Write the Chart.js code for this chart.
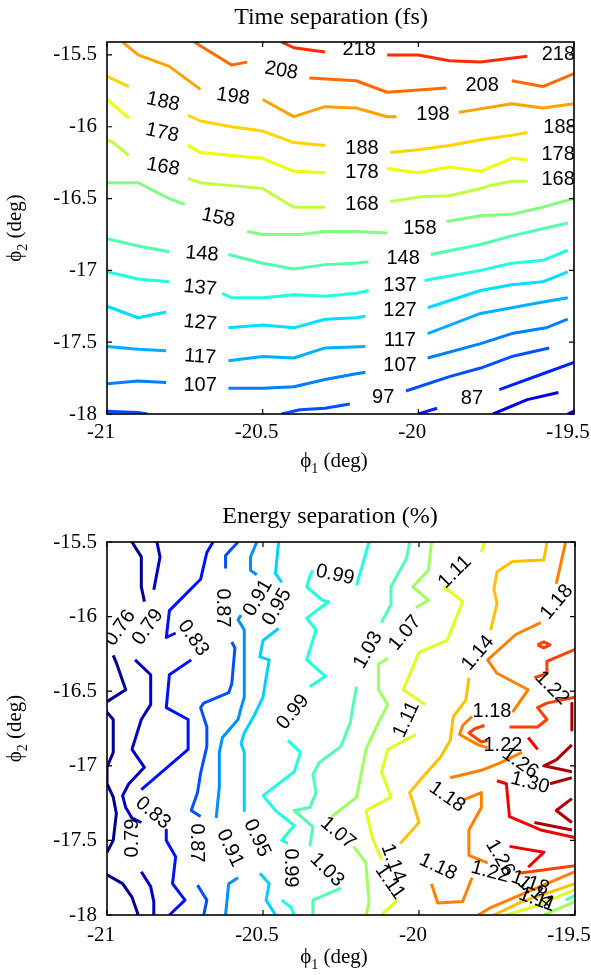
<!DOCTYPE html>
<html><head><meta charset="utf-8">
<script src="https://cdn.jsdelivr.net/npm/chart.js@4"></script>
<style>
html,body{margin:0;padding:0;background:#fff;}
#wrap{position:relative;width:591px;height:975px;}
.cv{position:absolute;left:0;}
</style></head><body>
<div id="wrap">
<canvas id="c1" class="cv" width="591" height="487" style="top:0"></canvas>
<canvas id="c2" class="cv" width="591" height="488" style="top:487px"></canvas>
</div>
<script>
// ---------------- DATA: axes ----------------
const xTicks = [-21, -20.5, -20, -19.5];
const yTicks = [-18, -17.5, -17, -16.5, -16, -15.5];

// ---------------- DATA: time separation (fs) contours ----------------
const timeLevels = [218, 208, 198, 188, 178, 168, 158, 148, 137, 127, 117, 107, 97, 87, 77];
const t218 = [
 [[-20.44,-15.41],[-20.40,-15.45],[-20.30,-15.48]],
 [[-20.10,-15.50],[-20.00,-15.50],[-19.90,-15.54],[-19.80,-15.55],[-19.65,-15.51]]
];
const t208 = [
 [[-20.72,-15.41],[-20.60,-15.57],[-20.55,-15.55]],
 [[-20.35,-15.66],[-20.20,-15.68],[-20.10,-15.76],[-19.91,-15.73]],
 [[-19.70,-15.68],[-19.60,-15.72],[-19.50,-15.63]]
];
const t198 = [
 [[-20.95,-15.41],[-20.90,-15.50],[-20.80,-15.58],[-20.70,-15.74]],
 [[-20.50,-15.81],[-20.40,-15.93],[-20.30,-15.86],[-20.20,-15.87],[-20.10,-15.93],[-20.07,-15.93]],
 [[-19.87,-15.90],[-19.70,-15.84],[-19.60,-15.87],[-19.50,-15.84]]
];
const t188 = [
 [[-21.00,-15.65],[-20.93,-15.72]],
 [[-20.74,-15.92],[-20.70,-15.96],[-20.60,-16.00],[-20.50,-16.03],[-20.40,-16.11],[-20.30,-16.13]],
 [[-20.09,-16.18],[-20.00,-16.16],[-19.90,-16.13],[-19.80,-16.09],[-19.70,-16.06],[-19.65,-16.04]]
];
const t178 = [
 [[-21.00,-15.81],[-20.93,-15.94]],
 [[-20.74,-16.13],[-20.70,-16.18],[-20.60,-16.20],[-20.50,-16.22],[-20.40,-16.31],[-20.30,-16.32]],
 [[-20.10,-16.29],[-20.00,-16.32],[-19.90,-16.28],[-19.80,-16.31],[-19.70,-16.22],[-19.65,-16.23]]
];
const t168 = [
 [[-21.00,-16.09],[-20.98,-16.11],[-20.93,-16.20]],
 [[-20.74,-16.36],[-20.70,-16.39],[-20.60,-16.41],[-20.50,-16.43],[-20.40,-16.56],[-20.30,-16.56]],
 [[-20.09,-16.52],[-20.00,-16.49],[-19.90,-16.48],[-19.80,-16.43],[-19.77,-16.41],[-19.70,-16.38],[-19.65,-16.38]]
];
const t158 = [
 [[-21.00,-16.39],[-20.90,-16.39],[-20.80,-16.50],[-20.75,-16.54]],
 [[-20.55,-16.73],[-20.50,-16.75],[-20.38,-16.75],[-20.30,-16.73],[-20.20,-16.73],[-20.10,-16.74]],
 [[-19.91,-16.66],[-19.80,-16.62],[-19.70,-16.61],[-19.60,-16.56],[-19.50,-16.50]]
];
const t148 = [
 [[-21.00,-16.78],[-20.90,-16.83],[-20.80,-16.87]],
 [[-20.61,-16.89],[-20.50,-16.95],[-20.40,-16.99],[-20.30,-16.96],[-20.20,-16.95],[-20.16,-16.94]],
 [[-19.96,-16.89],[-19.80,-16.82],[-19.70,-16.76],[-19.60,-16.71],[-19.52,-16.67]]
];
const t137 = [
 [[-21.00,-17.01],[-20.90,-17.06],[-20.80,-17.08]],
 [[-20.63,-17.16],[-20.60,-17.19],[-20.50,-17.19],[-20.40,-17.17],[-20.30,-17.18],[-20.20,-17.16],[-20.16,-17.14]],
 [[-19.98,-17.07],[-19.80,-17.00],[-19.70,-16.95],[-19.60,-16.93],[-19.52,-16.86]]
];
const t127 = [
 [[-21.00,-17.25],[-20.90,-17.33],[-20.81,-17.29]],
 [[-20.61,-17.40],[-20.50,-17.38],[-20.40,-17.40],[-20.30,-17.34],[-20.20,-17.33],[-20.17,-17.32]],
 [[-19.97,-17.26],[-19.80,-17.14],[-19.70,-17.10],[-19.60,-17.08],[-19.52,-17.01]]
];
const t117 = [
 [[-21.00,-17.53],[-20.90,-17.55],[-20.81,-17.56]],
 [[-20.61,-17.63],[-20.50,-17.60],[-20.40,-17.61],[-20.30,-17.54],[-20.17,-17.53]],
 [[-19.97,-17.44],[-19.80,-17.30],[-19.70,-17.26],[-19.60,-17.22],[-19.52,-17.19]]
];
const t107 = [
 [[-21.00,-17.79],[-20.90,-17.77],[-20.81,-17.78]],
 [[-20.61,-17.82],[-20.50,-17.82],[-20.40,-17.81],[-20.30,-17.76],[-20.20,-17.72],[-20.17,-17.71]],
 [[-19.97,-17.61],[-19.80,-17.51],[-19.70,-17.44],[-19.59,-17.40],[-19.52,-17.34]]
];
const t97 = [
 [[-21.00,-17.98],[-20.90,-17.99],[-20.87,-18.00]],
 [[-20.44,-18.00],[-20.38,-17.97],[-20.30,-17.96],[-20.22,-17.93]],
 [[-20.04,-17.84],[-19.90,-17.74],[-19.80,-17.68],[-19.70,-17.60],[-19.58,-17.54]]
];
const t87 = [
 [[-20.00,-18.00],[-19.94,-17.96]],
 [[-19.74,-17.83],[-19.60,-17.72],[-19.50,-17.64]]
];
const t77 = [
 [[-19.76,-18.00],[-19.65,-17.90],[-19.55,-17.85]],
 [[-19.52,-18.00],[-19.50,-17.98]]
];
// [x, y, text, rotation(deg)]
const timeLabels = [
 [-20.19,-15.465,'218',0],[-19.55,-15.50,'218',0],
 [-20.44,-15.61,'208',10],[-19.795,-15.716,'208',0],
 [-20.595,-15.79,'198',8],[-19.953,-15.918,'198',0],
 [-20.82,-15.827,'188',12],[-20.181,-16.148,'188',0],[-19.545,-16.008,'188',0],
 [-20.823,-16.043,'178',12],[-20.181,-16.315,'178',0],[-19.551,-16.196,'178',0],
 [-20.82,-16.28,'168',10],[-20.181,-16.538,'168',0],[-19.551,-16.37,'168',0],
 [-20.643,-16.635,'158',12],[-19.995,-16.705,'158',0],
 [-20.695,-16.886,'148',4],[-20.049,-16.914,'148',0],
 [-20.701,-17.123,'137',6],[-20.059,-17.102,'137',0],
 [-20.701,-17.366,'127',6],[-20.059,-17.276,'127',0],
 [-20.701,-17.603,'117',4],[-20.059,-17.485,'117',0],
 [-20.701,-17.798,'107',0],[-20.059,-17.659,'107',0],
 [-20.113,-17.882,'97',0],[-19.468,-17.485,'97',0],
 [-19.828,-17.889,'87',0]
];

// ---------------- DATA: energy separation (%) contours ----------------
const energyLevels = [0.76, 0.79, 0.83, 0.87, 0.91, 0.95, 0.99, 1.03, 1.07, 1.11, 1.14, 1.18, 1.22, 1.26, 1.30];
const e076 = [
 [[-20.92,-15.50],[-20.89,-15.60],[-20.89,-15.80],[-20.88,-15.90]],
 [[-20.98,-16.26],[-20.97,-16.31],[-20.94,-16.49],[-21.00,-16.57]],
 [[-21.00,-16.64],[-20.98,-16.69],[-20.98,-16.91],[-21.00,-17.01],[-21.00,-17.12],[-20.98,-17.21],[-20.97,-17.32],[-20.98,-17.50],[-21.00,-17.58]],
 [[-21.00,-17.73],[-20.95,-17.79],[-20.92,-17.88],[-20.90,-18.00]]
];
const e079 = [
 [[-20.84,-15.50],[-20.83,-15.60],[-20.85,-15.82]],
 [[-20.91,-16.29],[-20.86,-16.39],[-20.86,-16.59],[-20.89,-16.69],[-20.92,-16.89],[-20.88,-17.01],[-20.93,-17.12],[-20.95,-17.20],[-20.94,-17.28],[-20.92,-17.35],[-20.89,-17.38]],
 [[-20.89,-17.71],[-20.86,-17.81],[-20.85,-17.91],[-20.85,-18.00]]
];
const e083 = [
 [[-20.66,-15.50],[-20.68,-15.57],[-20.70,-15.75],[-20.80,-15.96],[-20.81,-16.14],[-20.78,-16.11]],
 [[-20.73,-16.29],[-20.80,-16.39],[-20.81,-16.61],[-20.74,-16.69],[-20.74,-16.89],[-20.89,-17.16]],
 [[-20.81,-17.43],[-20.81,-17.50],[-20.78,-17.61],[-20.79,-17.79],[-20.75,-17.90],[-20.80,-18.00]]
];
const e087 = [
 [[-20.58,-15.50],[-20.62,-15.59],[-20.62,-15.67]],
 [[-20.60,-16.17],[-20.59,-16.21],[-20.60,-16.45],[-20.61,-16.51],[-20.69,-16.58],[-20.70,-16.61],[-20.68,-16.74],[-20.68,-16.87],[-20.70,-17.05],[-20.71,-17.18],[-20.73,-17.30],[-20.70,-17.34]],
 [[-20.71,-17.80],[-20.68,-17.90],[-20.69,-18.00]]
];
const e091 = [
 [[-20.52,-15.50],[-20.54,-15.60],[-20.54,-15.69],[-20.52,-15.72]],
 [[-20.57,-15.99],[-20.58,-16.02],[-20.56,-16.09],[-20.56,-16.31],[-20.56,-16.54],[-20.57,-16.61],[-20.58,-16.69],[-20.63,-16.81],[-20.64,-16.91],[-20.64,-17.14],[-20.65,-17.35]],
 [[-20.58,-17.75],[-20.61,-17.79],[-20.62,-18.00]]
];
const e095 = [
 [[-20.45,-15.50],[-20.46,-15.71],[-20.44,-15.77]],
 [[-20.45,-16.08],[-20.50,-16.16],[-20.51,-16.27],[-20.48,-16.29],[-20.49,-16.41],[-20.50,-16.54],[-20.53,-16.67],[-20.56,-16.78],[-20.57,-16.85],[-20.56,-16.91],[-20.56,-17.14],[-20.56,-17.30]],
 [[-20.51,-17.72],[-20.48,-17.79],[-20.49,-17.90],[-20.46,-18.00]]
];
const e099 = [
 [[-20.16,-15.50],[-20.20,-15.79]],
 [[-20.34,-15.69],[-20.35,-15.73],[-20.36,-15.80],[-20.31,-15.89],[-20.29,-15.90],[-20.36,-16.01],[-20.33,-16.09],[-20.36,-16.29],[-20.30,-16.40],[-20.35,-16.47]],
 [[-20.42,-16.83],[-20.38,-16.91],[-20.40,-17.04],[-20.50,-17.20],[-20.46,-17.30],[-20.40,-17.40],[-20.44,-17.50],[-20.42,-17.52]],
 [[-20.44,-17.90],[-20.41,-17.95],[-20.40,-18.00]]
];
const e103 = [
 [[-20.03,-15.50],[-20.04,-15.61],[-20.09,-15.80],[-20.09,-15.92],[-20.12,-16.04]],
 [[-20.20,-16.47],[-20.21,-16.58],[-20.22,-16.71],[-20.25,-16.87],[-20.32,-16.98],[-20.34,-17.06],[-20.33,-17.18],[-20.35,-17.28],[-20.40,-17.30],[-20.34,-17.41],[-20.35,-17.54]],
 [[-20.25,-17.82],[-20.34,-17.90],[-20.34,-18.00]],
 [[-19.53,-17.90],[-19.50,-17.87]]
];
const e107 = [
 [[-19.96,-15.50],[-19.97,-15.69],[-20.02,-15.80],[-19.97,-15.89],[-20.01,-15.94]],
 [[-20.10,-16.28],[-20.13,-16.32],[-20.13,-16.49],[-20.10,-16.59],[-20.13,-16.71],[-20.17,-16.89],[-20.20,-17.21],[-20.28,-17.34]],
 [[-20.21,-17.54],[-20.17,-17.65],[-20.16,-17.92],[-20.17,-18.00]],
 [[-19.60,-18.00],[-19.50,-17.91]]
];
const e111 = [
 [[-19.79,-15.50],[-19.80,-15.57]],
 [[-19.92,-15.80],[-19.86,-15.90],[-19.91,-16.16],[-20.00,-16.24],[-20.05,-16.49],[-19.98,-16.59]],
 [[-20.01,-16.79],[-20.10,-16.89],[-20.12,-17.04],[-20.09,-17.21],[-20.17,-17.30],[-20.15,-17.48],[-20.12,-17.63]],
 [[-20.07,-17.90],[-20.12,-18.00]],
 [[-19.72,-18.00],[-19.64,-17.95],[-19.50,-17.83]]
];
const e114 = [
 [[-19.59,-15.50],[-19.60,-15.62],[-19.70,-15.63],[-19.75,-15.70],[-19.76,-15.82],[-19.75,-15.91],[-19.77,-16.09]],
 [[-19.84,-16.41],[-19.85,-16.56],[-19.89,-16.67],[-19.90,-16.83],[-19.93,-16.94],[-19.99,-17.08],[-20.03,-17.18],[-20.02,-17.24],[-20.00,-17.38],[-20.06,-17.52]],
 [[-19.76,-18.00],[-19.71,-17.95],[-19.67,-17.91],[-19.50,-17.79]]
];
const e118 = [
 [[-19.53,-15.50],[-19.56,-15.78]],
 [[-19.61,-16.04],[-19.69,-16.12],[-19.78,-16.29],[-19.75,-16.38],[-19.65,-16.49],[-19.68,-16.58],[-19.70,-16.64]],
 [[-19.83,-16.67],[-19.86,-16.73],[-19.87,-16.79],[-19.81,-16.86],[-19.78,-16.88]],
 [[-19.67,-16.91],[-19.74,-16.98],[-19.80,-17.03],[-19.90,-17.08]],
 [[-19.86,-17.23],[-19.80,-17.18],[-19.80,-17.28],[-19.84,-17.43],[-19.84,-17.60],[-19.78,-17.65]],
 [[-19.96,-17.79],[-19.94,-17.92],[-19.86,-17.91],[-19.83,-17.75]],
 [[-19.81,-18.00],[-19.77,-17.95],[-19.50,-17.71]]
];
const e122 = [
 [[-19.62,-16.19],[-19.60,-16.17],[-19.58,-16.19],[-19.60,-16.21],[-19.62,-16.19]],
 [[-19.50,-16.22],[-19.59,-16.30],[-19.59,-16.38],[-19.63,-16.41]],
 [[-19.50,-16.54],[-19.59,-16.58],[-19.62,-16.61],[-19.59,-16.69],[-19.62,-16.74],[-19.71,-16.74]],
 [[-19.79,-16.73],[-19.82,-16.75],[-19.84,-16.78],[-19.80,-16.84],[-19.78,-16.83]],
 [[-19.68,-17.72],[-19.50,-17.67]]
];
const e126 = [
 [[-19.65,-16.81],[-19.62,-16.89]],
 [[-19.75,-17.10],[-19.72,-17.12],[-19.71,-17.34],[-19.61,-17.43],[-19.50,-17.48]],
 [[-19.71,-17.54],[-19.60,-17.58],[-19.65,-17.68]]
];
const e130 = [
 [[-19.51,-16.58],[-19.51,-16.76]],
 [[-19.51,-16.86],[-19.56,-16.96],[-19.60,-17.00],[-19.51,-17.04]],
 [[-19.58,-17.12],[-19.51,-17.08]],
 [[-19.51,-17.22],[-19.56,-17.30],[-19.51,-17.38]],
 [[-19.63,-17.38],[-19.51,-17.43]]
];
const energyLabels = [
 [-20.958,-16.076,'0.76',-55],[-20.869,-16.07,'0.79',-55],[-20.724,-16.143,'0.83',55],
 [-20.631,-15.942,'0.87',90],[-20.516,-15.875,'0.91',-60],[-20.455,-15.936,'0.95',-60],
 [-20.269,-15.721,'0.99',12],[-20.404,-16.64,'0.99',-50],[-20.163,-16.224,'1.03',-60],
 [-20.045,-16.11,'1.07',-50],[-19.885,-15.701,'1.11',-45],[-19.811,-16.244,'1.14',-50],
 [-19.558,-15.902,'1.18',-50],[-19.574,-16.479,'1.22',45],[-19.766,-16.639,'1.18',0],
 [-20.853,-17.316,'0.83',40],[-20.917,-17.484,'0.79',-90],[-20.712,-17.517,'0.87',90],
 [-20.606,-17.551,'0.91',65],[-20.519,-17.484,'0.95',65],[-20.413,-17.685,'0.99',90],
 [-20.295,-17.698,'1.03',45],[-20.26,-17.45,'1.07',40],[-20.04,-16.69,'1.11',-65],
 [-20.083,-17.651,'1.14',70],[-20.093,-17.779,'1.11',55],[-19.91,-17.209,'1.18',35],
 [-19.939,-17.678,'1.18',25],[-19.731,-16.861,'1.22',0],[-19.676,-16.981,'1.26',35],
 [-19.644,-17.115,'1.30',15],[-19.74,-17.618,'1.26',60],[-19.772,-17.712,'1.22',15],
 [-19.644,-17.786,'1.18',20],[-19.628,-17.846,'1.14',40],[-19.622,-17.899,'1.11',20]
];

// ---------------- STYLE ----------------
const timeColors = ['#ff2a00','#ff6a00','#ffa200','#ffd400','#eeff00','#bfff3f','#80ff80','#50ffaf','#20ffdf','#00dfff','#00afff','#0080ff','#0050ff','#0020ff','#0000df'];
const energyColors = ['#00008f','#0000bf','#0010ff','#0050ff','#0090ff','#00d0ff','#20ffdf','#50ffaf','#9fff60','#dfff20','#ffc000','#ff8000','#ff4000','#ef0000','#af0000'];
const timeSegs = [t218,t208,t198,t188,t178,t168,t158,t148,t137,t127,t117,t107,t97,t87,t77];
const energySegs = [e076,e079,e083,e087,e091,e095,e099,e103,e107,e111,e114,e118,e122,e126,e130];

function buildDatasets(levels, segs, colors){
  const ds = [];
  levels.forEach((lv, i) => {
    segs[i].forEach(seg => {
      ds.push({
        label: String(lv),
        data: seg.map(p => ({x: p[0], y: p[1]})),
        showLine: true, pointRadius: 0, borderWidth: 3,
        borderColor: colors[i], backgroundColor: colors[i],
        tension: 0, fill: false, clip: 0,
        borderJoinStyle: 'round', borderCapStyle: 'butt'
      });
    });
  });
  return ds;
}

function drawAxisTitle(ctx, x, y, main, sub, rest, size, rot){
  ctx.save();
  ctx.translate(x, y);
  ctx.rotate(rot);
  const f = size + 'px "Liberation Serif", "DejaVu Serif", serif';
  const fs = Math.round(size*0.68) + 'px "Liberation Serif", "DejaVu Serif", serif';
  ctx.font = f; const w1 = ctx.measureText(main).width; const w3 = ctx.measureText(rest).width;
  ctx.font = fs; const w2 = ctx.measureText(sub).width;
  let sx = -(w1 + w2 + w3)/2;
  ctx.fillStyle = '#000'; ctx.textBaseline = 'alphabetic'; ctx.textAlign = 'left';
  ctx.font = f; ctx.fillText(main, sx, 0); sx += w1;
  ctx.font = fs; ctx.fillText(sub, sx, size*0.3); sx += w2;
  ctx.font = f; ctx.fillText(rest, sx, 0);
  ctx.restore();
}

function makeChart(id, cfg){
  const H = cfg.height;
  const decor = {
    id: 'decor',
    afterDatasetsDraw(chart){
      const ctx = chart.ctx, a = chart.chartArea, xs = chart.scales.x, ys = chart.scales.y;
      // contour labels
      ctx.save();
      ctx.beginPath(); ctx.rect(a.left, a.top, a.right - a.left, a.bottom - a.top); ctx.clip();
      ctx.font = '20px "Liberation Sans", Arial, sans-serif';
      ctx.fillStyle = '#000'; ctx.textAlign = 'center'; ctx.textBaseline = 'middle';
      cfg.labels.forEach(l => {
        ctx.save();
        ctx.translate(xs.getPixelForValue(l[0]), ys.getPixelForValue(l[1]));
        ctx.rotate(l[3]*Math.PI/180);
        ctx.fillText(l[2], 0, 0);
        ctx.restore();
      });
      ctx.restore();
      // frame and mirrored inward ticks
      ctx.save();
      ctx.strokeStyle = '#000'; ctx.lineWidth = 1.6;
      ctx.strokeRect(a.left, a.top, a.right - a.left, a.bottom - a.top);
      ctx.lineWidth = 1.2;
      const tl = 5;
      xTicks.forEach(v => { const px = xs.getPixelForValue(v);
        ctx.beginPath(); ctx.moveTo(px, a.bottom); ctx.lineTo(px, a.bottom - tl);
        ctx.moveTo(px, a.top); ctx.lineTo(px, a.top + tl); ctx.stroke(); });
      yTicks.forEach(v => { const py = ys.getPixelForValue(v);
        ctx.beginPath(); ctx.moveTo(a.left, py); ctx.lineTo(a.left + tl, py);
        ctx.moveTo(a.right, py); ctx.lineTo(a.right - tl, py); ctx.stroke(); });
      ctx.restore();
      // titles
      ctx.save();
      ctx.fillStyle = '#000'; ctx.textAlign = 'center'; ctx.textBaseline = 'alphabetic';
      ctx.font = '24px "Liberation Serif", "DejaVu Serif", serif';
      ctx.fillText(cfg.title, cfg.titleX, cfg.titleY);
      ctx.restore();
      drawAxisTitle(ctx, cfg.xtX, cfg.xtY, '\u03D5', '1', ' (deg)', 21, 0);
      drawAxisTitle(ctx, cfg.ytX, (a.top + a.bottom)/2, '\u03D5', '2', ' (deg)', 21, -Math.PI/2);
    }
  };
  return new Chart(document.getElementById(id), {
    type: 'scatter',
    data: { datasets: cfg.datasets },
    options: {
      responsive: false, animation: false, events: [],
      layout: { padding: { top: cfg.top, right: cfg.right, left: 0, bottom: 0 } },
      plugins: { legend: { display: false }, tooltip: { enabled: false }, title: { display: false } },
      scales: {
        x: {
          type: 'linear', min: -21, max: -19.5,
          afterBuildTicks: s => { s.ticks = xTicks.map(v => ({ value: v })); },
          afterFit: s => { s.height = H - cfg.bottom; s.paddingLeft = 0; s.paddingRight = 0; },
          grid: { display: false, drawTicks: false }, border: { display: false },
          ticks: { autoSkip: false, maxRotation: 0, padding: cfg.xpad, labelOffset: -6, color: '#000',
                   font: { family: '"Liberation Serif", serif', size: 21 }, callback: v => String(v) }
        },
        y: {
          type: 'linear', min: -18, max: cfg.ymax,
          afterBuildTicks: s => { s.ticks = yTicks.map(v => ({ value: v })); },
          afterFit: s => { s.width = 107; s.paddingTop = 0; s.paddingBottom = 0; },
          grid: { display: false, drawTicks: false }, border: { display: false },
          ticks: { autoSkip: false, padding: 10, color: '#000',
                   font: { family: '"Liberation Serif", serif', size: 21 }, callback: v => String(v) }
        }
      }
    },
    plugins: [decor]
  });
}

makeChart('c1', {
  height: 487, top: 42, right: 17, bottom: 414, ymax: -15.41, xpad: 6,
  datasets: buildDatasets(timeLevels, timeSegs, timeColors), labels: timeLabels,
  title: 'Time separation (fs)', titleX: 331, titleY: 24, xtX: 334, xtY: 467, ytX: 21
});
makeChart('c2', {
  height: 488, top: 55, right: 16, bottom: 428, ymax: -15.5, xpad: 8,
  datasets: buildDatasets(energyLevels, energySegs, energyColors), labels: energyLabels,
  title: 'Energy separation (%)', titleX: 330, titleY: 36, xtX: 334, xtY: 476, ytX: 21
});
</script>
</body></html>
